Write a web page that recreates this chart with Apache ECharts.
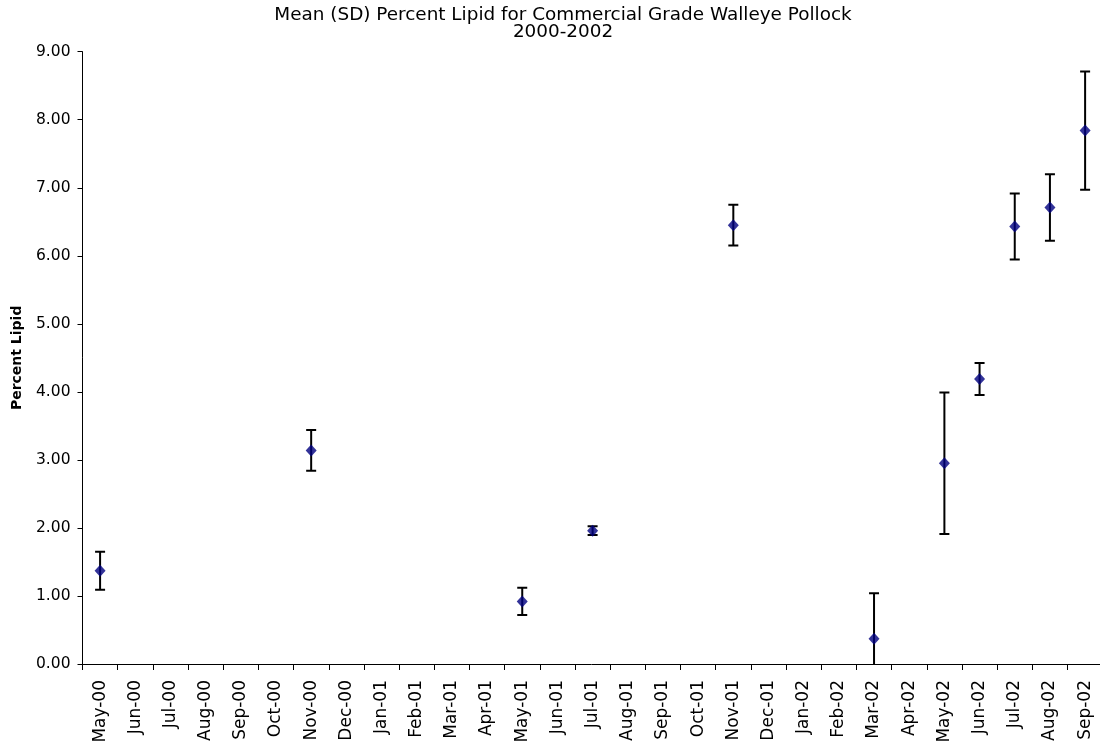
<!DOCTYPE html>
<html>
<head>
<meta charset="utf-8">
<title>Mean (SD) Percent Lipid for Commercial Grade Walleye Pollock 2000-2002</title>
<script src="https://cdn.jsdelivr.net/npm/echarts@6/dist/echarts.min.js"></script>
<style>
  html, body { margin: 0; padding: 0; background: #ffffff; }
  #chart { width: 1100px; height: 752px; }
</style>
</head>
<body>
<div id="chart"></div>
<script>
// Month axis, May 2000 through September 2002
const months = [
  'May-00', 'Jun-00', 'Jul-00', 'Aug-00', 'Sep-00', 'Oct-00', 'Nov-00', 'Dec-00',
  'Jan-01', 'Feb-01', 'Mar-01', 'Apr-01', 'May-01', 'Jun-01', 'Jul-01', 'Aug-01',
  'Sep-01', 'Oct-01', 'Nov-01', 'Dec-01', 'Jan-02', 'Feb-02', 'Mar-02', 'Apr-02',
  'May-02', 'Jun-02', 'Jul-02', 'Aug-02', 'Sep-02'
];

// Months in which samples were taken
const sampleMonths = ['May-00', 'Nov-00', 'May-01', 'Jul-01', 'Nov-01', 'Mar-02',
                      'May-02', 'Jun-02', 'Jul-02', 'Aug-02', 'Sep-02'];
// Mean percent lipid for each sample month
const meanLipid = [1.37, 3.14, 0.92, 1.96, 6.45, 0.37, 2.95, 4.19, 6.43, 6.71, 7.84];
// Standard deviation for each sample month
const sdLipid = [0.28, 0.30, 0.20, 0.065, 0.30, 0.67, 1.04, 0.235, 0.485, 0.49, 0.87];

// Y axis ticks
const yTicks = { min: 0, max: 9, interval: 1 };

const pointData = sampleMonths.map((m, i) => [m, meanLipid[i]]);
const barData = sampleMonths.map((m, i) => [months.indexOf(m), meanLipid[i] - sdLipid[i], meanLipid[i] + sdLipid[i]]);

const FONT = '"DejaVu Sans", Arial, sans-serif';
const chart = echarts.init(document.getElementById('chart'), null, { renderer: 'canvas' });

chart.setOption({
  backgroundColor: '#ffffff',
  animation: false,
  title: {
    text: 'Mean (SD) Percent Lipid for Commercial Grade Walleye Pollock\n2000-2002',
    left: 558,
    textAlign: 'center',
    top: 2,
    textStyle: {
      fontFamily: FONT,
      fontSize: 18.4,
      fontWeight: 'normal',
      color: '#000',
      lineHeight: 17
    }
  },
  grid: {
    left: 82.5,
    top: 51.7,
    width: 1020.2,
    height: 612.3,
    containLabel: false,
    outerBoundsMode: 'none'
  },
  xAxis: {
    type: 'category',
    data: months,
    boundaryGap: true,
    axisLine: { lineStyle: { color: '#000', width: 1 } },
    axisTick: { show: true, interval: 0, length: 6, lineStyle: { color: '#000' } },
    axisLabel: {
      interval: 0,
      rotate: 90,
      margin: 16,
      color: '#000',
      fontFamily: FONT,
      fontSize: 17
    },
    splitLine: { show: false }
  },
  yAxis: {
    type: 'value',
    min: yTicks.min,
    max: yTicks.max,
    interval: yTicks.interval,
    name: 'Percent Lipid',
    nameLocation: 'middle',
    nameGap: 58,
    nameRotate: 90,
    nameTextStyle: {
      fontFamily: FONT,
      fontSize: 14,
      fontWeight: 'bold',
      color: '#000'
    },
    axisLine: { show: true, lineStyle: { color: '#000', width: 1 } },
    axisTick: { show: true, length: 5, lineStyle: { color: '#000' } },
    axisLabel: {
      margin: 12,
      color: '#000',
      fontFamily: FONT,
      fontSize: 15.5,
      formatter: v => v.toFixed(2)
    },
    splitLine: { show: false }
  },
  series: [
    {
      // SD error bars with end caps
      type: 'custom',
      clip: true,
      z: 2,
      data: barData,
      encode: { x: 0, y: [1, 2] },
      renderItem: function (params, api) {
        const x = api.value(0);
        const lo = api.coord([x, api.value(1)]);
        const hi = api.coord([x, api.value(2)]);
        const half = 5;
        const style = { stroke: '#000', lineWidth: 2, fill: null };
        return {
          type: 'group',
          children: [
            { type: 'line', shape: { x1: hi[0], y1: hi[1], x2: lo[0], y2: lo[1] }, style: style },
            { type: 'line', shape: { x1: hi[0] - half, y1: hi[1], x2: hi[0] + half, y2: hi[1] }, style: style },
            { type: 'line', shape: { x1: lo[0] - half, y1: lo[1], x2: lo[0] + half, y2: lo[1] }, style: style }
          ]
        };
      }
    },
    {
      // Mean values
      type: 'scatter',
      z: 3,
      symbol: 'diamond',
      symbolSize: [11, 12],
      itemStyle: { color: '#000080' },
      data: pointData
    }
  ]
});
</script>
</body>
</html>
